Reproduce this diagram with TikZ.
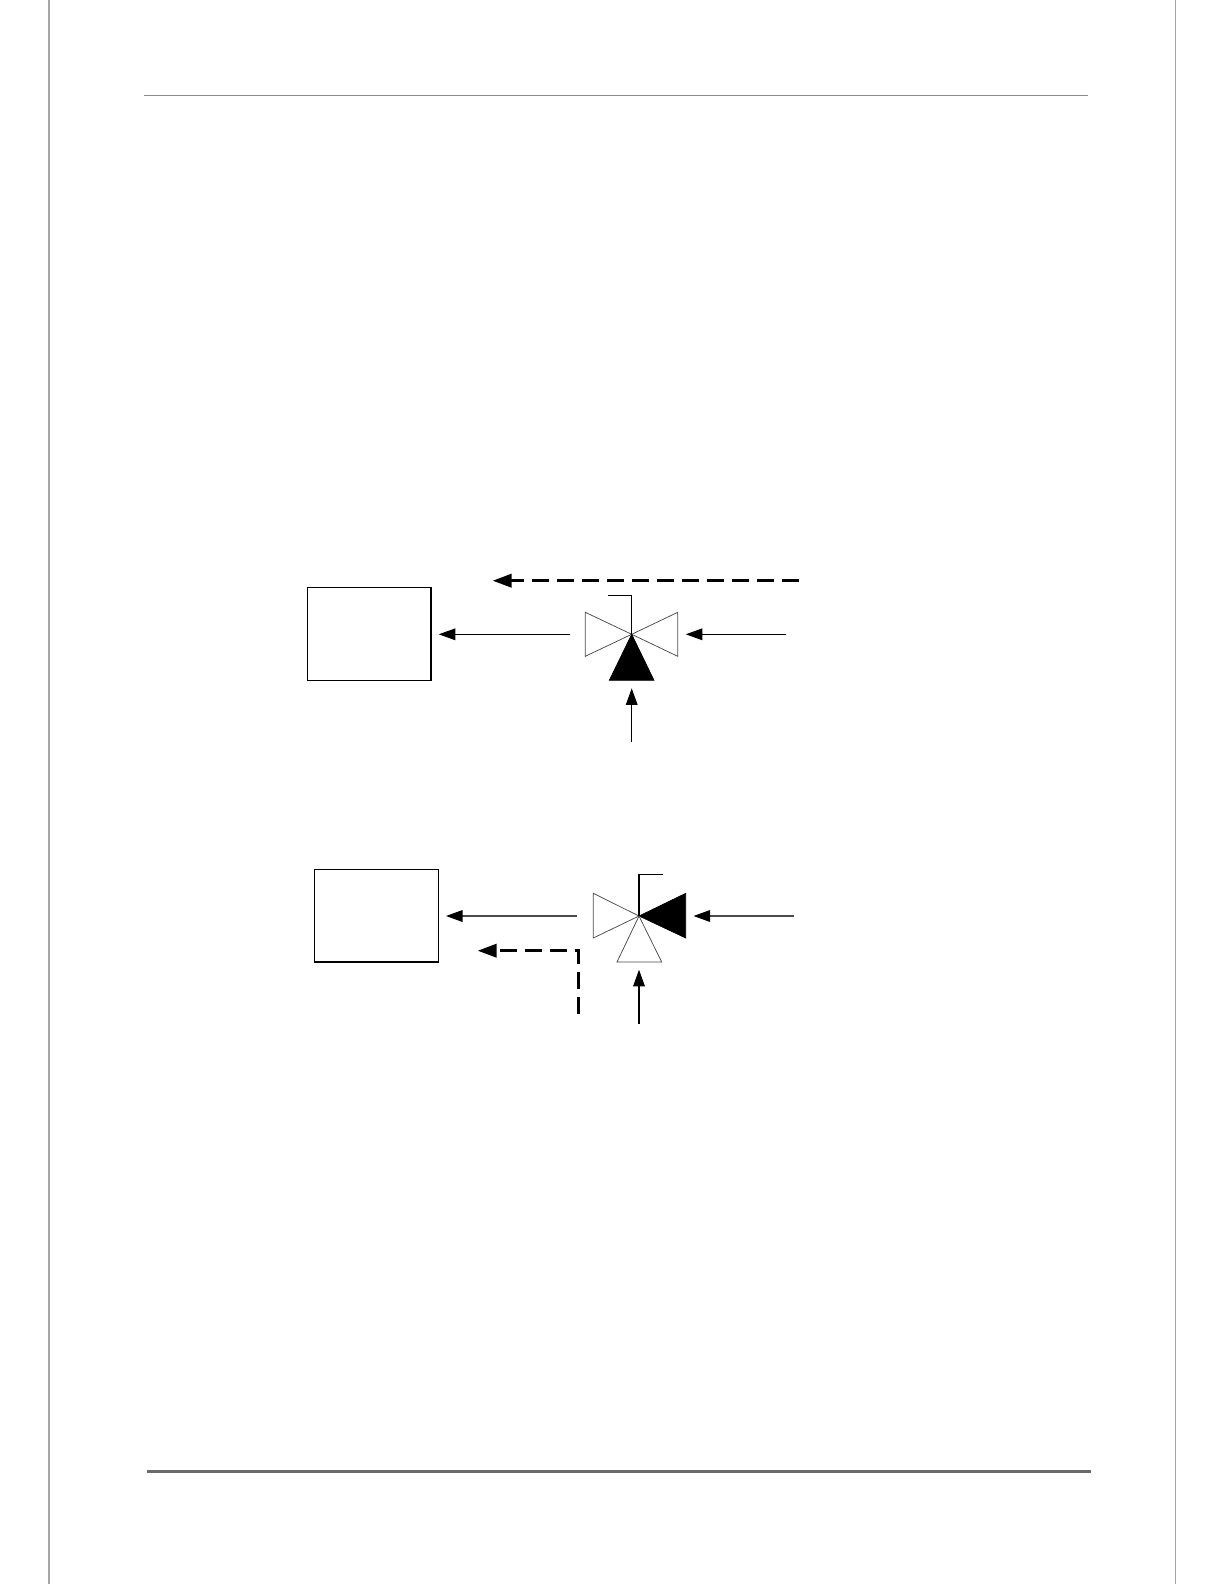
\documentclass[tikz,border=0pt]{standalone}
\usetikzlibrary{arrows.meta,positioning}

\begin{document}
\begin{tikzpicture}[
  x=0.6pt, y=-0.6pt,
  plant/.style={draw, line width=0.7pt, minimum width=74.2pt, minimum height=55.6pt, inner sep=0pt},
  arr/.style={-{Triangle[length=10pt, width=7pt, black]}, line width=0.7pt},
  arrsoft/.style={arr, draw=black!70, line width=0.95pt},
  dasharr/.style={-{Triangle[length=11.4pt, width=8pt]}, line width=1.7pt, dash pattern=on 10pt off 5pt},
  vopen/.style={draw=black!70, line width=0.45pt, fill=white},
  vshut/.style={draw=black, line width=0.4pt, fill=black},
  stem/.style={line width=0.8pt},
  rulev/.style={draw=black!35, line width=0.9pt}
]
\useasboundingbox (0,0) rectangle (1224,1584);

% page rules
\draw[rulev, line width=1.4pt] (49,0) -- (49,1584);
\draw[rulev] (1175.5,0) -- (1175.5,1584);
\draw[draw={rgb,255:red,110;green,150;blue,175}, line width=0.6pt] (144,95.5) -- (1088,95.5);
\draw[draw=black!58, line width=1.8pt] (147,1471.5) -- (1091,1471.5);

% upper loop
\node[plant] (tank1) at (369.1,634) {};
\coordinate (valve1) at (631.7,634.3);
\coordinate (in1) at (786,634.3);
\coordinate (out1) at (570,634.3);
\coordinate (tank1end) at (438.7,634.3);
\coordinate (inb1) at (631.7,742.3);
\coordinate (inbend1) at (631.7,688.3);
\coordinate (inr1) at (685.7,634.3);
\coordinate (sigs1) at (798.7,580.7);
\coordinate (sige1) at (492.7,580.7);

\draw[vopen] (valve1) -- ++(-46.4,-22) -- ++(0,44) -- cycle;
\draw[vopen] (valve1) -- ++(46,-22) -- ++(0,44) -- cycle;
\draw[vshut] (valve1) -- ++(-22.4,46) -- ++(44.7,0) -- cycle;
\draw[stem] (valve1) -- ++(0,-39) -- ++(-23.4,0);

\draw[arr] (out1) -- (tank1end);
\draw[arr] (in1) -- (inr1);
\draw[arr] (inb1) -- (inbend1);
\draw[dasharr] (sigs1) -- (sige1);

% lower loop
\node[plant] (tank2) at (376.5,915.65) {};
\coordinate (valve2) at (639,916);
\coordinate (in2) at (794,916);
\coordinate (out2) at (577.3,916);
\coordinate (tank2end) at (446,916);
\coordinate (inb2) at (639,1023.7);
\coordinate (inbend2) at (639,969.7);
\coordinate (inr2) at (693.5,916);
\coordinate (sigs2) at (578.2,1014);
\coordinate (sigc2) at (578.2,950.7);
\coordinate (sige2) at (477.7,950.7);

\draw[vopen] (valve2) -- ++(-45.7,-22.7) -- ++(0,44.7) -- cycle;
\draw[vshut] (valve2) -- ++(46.7,-22.7) -- ++(0,44.7) -- cycle;
\draw[vopen] (valve2) -- ++(-22,46) -- ++(44.7,0) -- cycle;
\draw[stem] (valve2) -- ++(0,-41.3) -- ++(24,0);

\draw[arrsoft] (out2) -- (tank2end);
\draw[arrsoft] (in2) -- (inr2);
\draw[arr] (inb2) -- (inbend2);
\draw[dasharr] (sigs2) -- (sigc2) -- (sige2);
\end{tikzpicture}
\end{document}
